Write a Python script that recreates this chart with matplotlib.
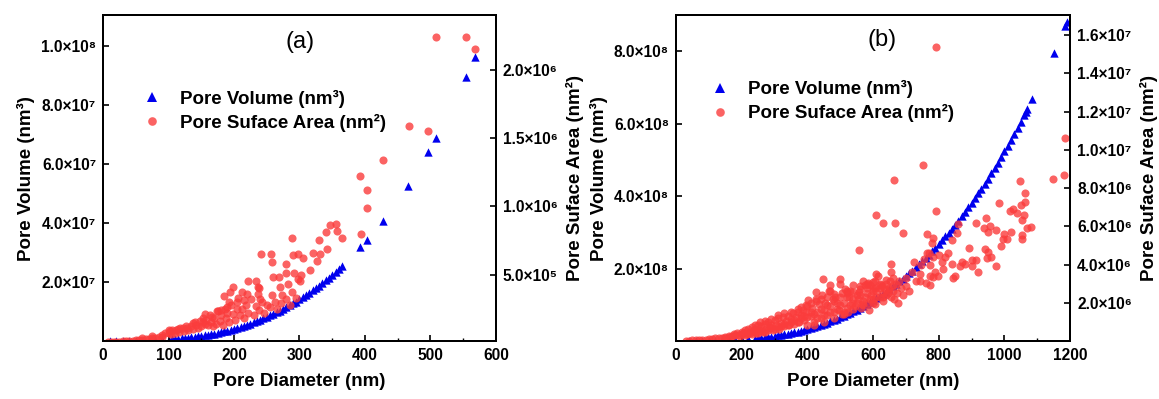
import numpy as np
import matplotlib
matplotlib.use('Agg')
import matplotlib.pyplot as plt
from matplotlib.ticker import MultipleLocator
from matplotlib.lines import Line2D

plt.rcParams['font.family'] = ['Liberation Sans', 'DejaVu Sans']
plt.rcParams['font.weight'] = 'bold'

# ---- panel (a) data ----
a_d_vol = [10, 20, 30, 40, 50, 60, 70, 80, 90, 100, 105, 110, 115, 120, 125, 130, 135, 140,
           145, 150, 155, 160, 165, 170, 175, 180, 185, 190, 195, 200, 205, 210, 215, 220,
           225, 230, 235, 240, 245, 250, 255, 260, 265, 270, 275, 280, 285, 290, 295, 300,
           305, 310, 315, 320, 325, 330, 335, 340, 345, 350, 355, 360, 365,
           393, 403, 427, 465, 496, 508, 555, 568]
a_vol = [5.2e2, 4.2e3, 1.41e4, 3.35e4, 6.54e4, 1.13e5, 1.80e5, 2.68e5, 3.82e5, 5.24e5, 6.06e5,
         6.97e5, 7.96e5, 9.05e5, 1.02e6, 1.15e6, 1.29e6, 1.44e6, 1.60e6, 1.77e6, 1.95e6,
         2.14e6, 2.35e6, 2.57e6, 2.81e6, 3.05e6, 3.32e6, 3.59e6, 3.88e6, 4.19e6, 4.51e6,
         4.85e6, 5.20e6, 5.58e6, 5.96e6, 6.37e6, 6.80e6, 7.24e6, 7.70e6, 8.18e6, 8.68e6,
         9.20e6, 9.74e6, 1.03e7, 1.09e7, 1.15e7, 1.21e7, 1.28e7, 1.34e7, 1.41e7, 1.49e7,
         1.56e7, 1.64e7, 1.72e7, 1.80e7, 1.88e7, 1.97e7, 2.06e7, 2.15e7, 2.24e7, 2.34e7,
         2.44e7, 2.55e7,
         3.18e7, 3.43e7, 4.08e7, 5.26e7, 6.39e7, 6.86e7, 8.95e7, 9.60e7]

# surface area, in units of 1e6 nm^2
a_d_area = [508, 555, 568, 467, 497, 428, 393, 403, 403, 394,
            347, 356, 340, 357, 365, 330, 342, 288,
            241, 257, 258, 279, 290, 297, 305, 320, 331, 326, 316,
            279, 292, 302, 260, 268, 298, 301, 282, 270,
            221, 234, 236, 238, 199, 212, 194, 185, 258, 274, 289, 240, 216, 190, 174, 204, 156,
            8, 12, 16, 20, 25, 30, 35, 40, 45, 50, 55, 60, 65, 70, 75, 80, 85, 90, 95, 100,
            100, 104, 106, 110, 112, 116, 118, 122, 124, 128, 130, 134, 137, 138, 142, 145,
            148, 150, 153, 155, 158, 160, 163, 165, 168, 170, 172, 176, 178, 180, 183, 186,
            188, 190, 193, 196, 199, 202, 205, 209, 212, 215, 218, 222, 226, 230, 233, 238,
            242, 246, 250, 255, 262, 266, 272, 280, 286, 294,
            60, 75, 90, 102, 114, 126, 140, 152, 166, 180, 192, 206, 220, 236]
a_area = [2.24, 2.24, 2.15, 1.59, 1.55, 1.34, 1.22, 1.12, 0.99, 0.80,
          0.86, 0.87, 0.81, 0.82, 0.77, 0.75, 0.69, 0.77,
          0.65, 0.65, 0.59, 0.58, 0.64, 0.65, 0.62, 0.66, 0.65, 0.60, 0.53,
          0.51, 0.51, 0.50, 0.48, 0.48, 0.47, 0.45, 0.43, 0.41,
          0.45, 0.45, 0.41, 0.40, 0.41, 0.37, 0.37, 0.34, 0.35, 0.35, 0.37, 0.32, 0.31, 0.26,
          0.23, 0.25, 0.21,
          0.005, 0.006, 0.007, 0.008, 0.009, 0.010, 0.012, 0.014, 0.016, 0.018, 0.021, 0.024,
          0.027, 0.030, 0.034, 0.038, 0.042, 0.046, 0.07, 0.09,
          0.075, 0.065, 0.09, 0.07, 0.095, 0.08, 0.105, 0.107, 0.085, 0.11, 0.09, 0.12, 0.145,
          0.10, 0.13, 0.11, 0.16, 0.12, 0.18, 0.14, 0.17, 0.13, 0.20, 0.15, 0.12, 0.18, 0.14,
          0.23, 0.16, 0.20, 0.13, 0.25, 0.18, 0.22, 0.15, 0.28, 0.21, 0.17, 0.30, 0.20, 0.25,
          0.18, 0.28, 0.22, 0.32, 0.20, 0.27, 0.24, 0.30, 0.22, 0.28, 0.26, 0.30, 0.25, 0.29,
          0.32, 0.28, 0.33,
          0.035, 0.05, 0.06, 0.085, 0.10, 0.125, 0.15, 0.15, 0.19, 0.24, 0.30, 0.33, 0.36, 0.36]

# ---- panel (b) data ----
b_d_vol = [40, 60, 80, 100, 120, 140, 160, 180, 200, 220, 240, 250, 260, 270, 280, 290, 300,
           310, 320, 330, 340, 350, 360, 370, 380, 390, 400, 410, 420, 430, 440, 450, 460,
           470, 480, 490, 500, 510, 520, 530, 540, 550, 560, 570, 580, 590, 600, 610, 620,
           630, 640, 650, 660, 670, 680, 690, 700, 710, 720, 730, 740, 750, 760, 770, 780,
           790, 800, 810, 820, 830, 840, 850, 860, 870, 880, 890, 900, 910, 920, 930, 940,
           950, 960, 970, 980, 990, 1000, 1010, 1020, 1030, 1040, 1050, 1060, 1065, 1070,
           1085, 1150, 1185, 1190]
b_vol = [3.35e4, 1.13e5, 2.68e5, 5.24e5, 9.05e5, 1.44e6, 2.14e6, 3.05e6, 4.19e6, 5.58e6,
         7.24e6, 8.18e6, 9.20e6, 1.03e7, 1.15e7, 1.28e7, 1.41e7, 1.56e7, 1.72e7, 1.88e7,
         2.06e7, 2.24e7, 2.44e7, 2.65e7, 2.87e7, 3.11e7, 3.35e7, 3.61e7, 3.88e7, 4.16e7,
         4.46e7, 4.77e7, 5.10e7, 5.44e7, 5.79e7, 6.16e7, 6.54e7, 6.95e7, 7.36e7, 7.80e7,
         8.24e7, 8.71e7, 9.20e7, 9.70e7, 1.02e8, 1.075e8, 1.13e8, 1.19e8, 1.25e8, 1.31e8,
         1.37e8, 1.44e8, 1.51e8, 1.575e8, 1.65e8, 1.72e8, 1.80e8, 1.87e8, 1.95e8, 2.04e8,
         2.12e8, 2.21e8, 2.30e8, 2.39e8, 2.48e8, 2.58e8, 2.68e8, 2.78e8, 2.89e8, 2.99e8,
         3.10e8, 3.22e8, 3.33e8, 3.45e8, 3.57e8, 3.69e8, 3.82e8, 3.95e8, 4.08e8, 4.21e8,
         4.35e8, 4.49e8, 4.63e8, 4.78e8, 4.93e8, 5.08e8, 5.24e8, 5.39e8, 5.56e8, 5.72e8,
         5.89e8, 6.06e8, 6.24e8, 6.32e8, 6.41e8,
         6.69e8, 7.96e8, 8.71e8, 8.82e8]

# surface area, in units of 1e6 nm^2
b_d_area = [793, 753, 664, 1183, 1149, 1181, 792, 609, 631, 667, 690, 558, 765, 784, 855, 840,
            829, 893, 860, 914, 943, 938, 956, 975, 951, 984, 1048, 1063, 1063, 1051, 1027,
            1017, 1038, 1053, 1081, 1055, 1055, 995, 1007, 990, 951, 946, 914, 901, 880, 865,
            840, 814, 799, 784, 774, 762, 743, 743, 843, 774, 784, 774, 764, 745, 654, 654,
            609, 606, 586, 606, 627, 652, 647, 677, 500, 498, 469, 448, 470, 426, 401, 426,
            477, 528, 557, 574, 599, 564, 589, 325, 356, 386,
            30, 40, 50, 60, 70, 80, 90, 100, 110, 120, 130, 140, 150, 160, 170, 180, 190, 200,
            150, 165, 175, 185, 195, 200,
            205, 210, 215, 220, 225, 230, 235, 240, 245, 250, 255, 260, 265, 270, 275, 280,
            285, 290, 295, 300,
            305, 310, 315, 320, 330, 335, 340, 345, 350, 360, 365, 370, 375, 380, 390, 395,
            400, 400,
            410, 415, 420, 430, 435, 440, 445, 450, 455, 460, 465, 470, 480, 485, 490, 495,
            505, 505,
            510, 515, 520, 522, 525, 530, 535, 540, 545, 550, 555, 560, 565, 570, 575, 580,
            585, 592, 595, 600, 605,
            610, 615, 620, 625, 630, 635, 640, 645, 655, 660, 665, 672, 680, 690, 700,
            720, 725, 730, 755, 770, 780, 790, 800, 810, 820, 850, 870, 900, 920, 940, 960,
            975, 1000, 1020, 1060, 1070,
            210, 220, 230, 240, 250, 260, 270, 280, 290, 300, 310, 320, 330, 340, 350, 360,
            370, 380, 390, 400, 410, 420, 430, 440, 450, 460, 470, 480, 490, 500, 510, 520,
            530, 540, 550, 560, 570, 580, 590, 600, 610, 620, 630, 640, 650, 660, 670, 685,
            700, 710,
            420, 450, 480, 510, 540, 570, 600, 630,
            240, 256, 270, 290, 310, 330, 350, 370, 380, 395, 410, 425, 440, 460, 480, 500,
            520, 540, 560, 580, 600, 620, 640, 660]
b_area = [15.4, 9.2, 8.45, 10.65, 8.5, 8.7, 6.8, 6.62, 6.2, 6.2, 5.66, 4.76, 5.63, 5.37, 5.66,
          5.28, 4.62, 4.85, 6.15, 6.19, 6.45, 5.92, 6.01, 5.8, 5.72, 7.23, 8.38, 7.75, 7.28,
          7.11, 6.89, 6.81, 6.68, 6.36, 5.95, 5.54, 5.32, 5.32, 5.33, 4.97, 4.67, 4.36, 4.27,
          3.92, 4.01, 3.92, 4.03, 3.75, 3.4, 3.36, 3.4, 3.02, 3.15, 3.5, 3.28, 2.93, 4.41, 3.97,
          4.6, 4.0, 4.03, 3.62, 3.5, 3.14, 3.02, 2.76, 2.89, 3.14, 2.67, 2.0, 3.25, 2.97, 2.96,
          3.23, 2.61, 2.58, 2.14, 2.23, 2.18, 2.32, 2.58, 2.93, 2.76, 1.71, 1.62, 1.27, 1.45,
          1.62,
          0.02, 0.03, 0.04, 0.05, 0.06, 0.07, 0.08, 0.10, 0.12, 0.14, 0.16, 0.19, 0.22, 0.25,
          0.28, 0.31, 0.34, 0.38,
          0.15, 0.20, 0.38, 0.45, 0.27, 0.50,
          0.42, 0.58, 0.35, 0.62, 0.45, 0.72, 0.52, 0.64, 0.42, 0.82, 0.60, 0.77, 0.50, 0.92,
          0.66, 1.02, 0.72, 0.87, 0.57, 1.12,
          0.82, 1.20, 0.66, 0.97, 0.77, 1.07, 1.32, 0.87, 1.17, 0.92, 1.27, 1.55, 1.02, 1.37,
          1.12, 1.52, 1.82, 0.87,
          1.32, 1.72, 1.02, 1.52, 1.92, 1.22, 2.42, 1.62, 2.02, 1.37, 2.62, 1.82, 1.52, 2.32,
          2.02, 1.62, 2.52, 1.42,
          2.02, 2.72, 1.72, 2.30, 1.52, 2.62, 2.02, 2.92, 1.82, 2.42, 2.22, 2.72, 1.92, 3.12,
          2.32, 2.52, 2.02, 2.92, 2.42, 2.22, 1.92,
          2.62, 3.42, 2.32, 2.92, 2.12, 2.72, 3.22, 2.52, 2.32, 2.92, 2.22, 2.52, 3.12, 2.42,
          3.32,
          3.62, 4.12, 3.12, 4.32, 4.62, 5.12, 3.62, 4.52, 4.12, 4.42, 3.42, 4.12, 4.22, 3.62,
          4.82, 4.42, 3.92, 5.62, 5.72, 6.62, 5.92,
          0.30, 0.40, 0.35, 0.50, 0.45, 0.55, 0.50, 0.60, 0.70, 0.65, 0.75, 0.80, 0.90, 0.85,
          1.00, 1.10, 1.00, 1.20, 1.30, 1.25, 1.50, 1.40, 1.20, 1.70, 1.35, 1.90, 1.50, 2.10,
          1.70, 1.90, 1.50, 2.50, 1.90, 2.20, 2.00, 2.40, 2.10, 2.80, 2.20, 2.60, 2.30, 2.80,
          2.50, 2.40, 2.80, 2.60, 3.00, 2.80, 2.90, 2.60,
          0.85, 1.00, 1.20, 1.40, 1.70, 1.90, 2.00, 2.30,
          0.85, 1.00, 1.05, 1.15, 1.35, 1.45, 1.55, 1.70, 1.80, 1.90, 2.00, 2.10, 2.20, 2.30,
          2.45, 2.30, 2.60, 2.55, 2.90, 3.00, 3.10, 3.00, 3.00, 3.30]

SUP = str.maketrans('0123456789', '⁰¹²³⁴⁵⁶⁷⁸⁹')


def sci(v):
    e = int(np.floor(np.log10(v)))
    return '%.1f×10%s' % (v / 10 ** e, str(e).translate(SUP))


BLUE = '#0000ee'
RED = '#fa3c3c'


def panel(rect, d_vol, vol, d_area, area, xmax, xmajor, ylim1, ylim2,
          yt1, yt2, letter, letter_xy, leg_anchor):
    ax = fig.add_axes(rect)
    ax.scatter(d_vol, vol, marker='^', s=36, color=BLUE, linewidths=0)
    ax2 = ax.twinx()
    ax2.scatter(d_area, np.array(area) * 1e6, marker='o', s=34, color=RED,
                alpha=0.8, linewidths=0)
    ax.set_xlim(0, xmax)
    ax.set_ylim(*ylim1)
    ax2.set_ylim(*ylim2)
    ax.xaxis.set_major_locator(MultipleLocator(xmajor))
    ax.xaxis.set_minor_locator(MultipleLocator(xmajor / 2))
    ax.set_yticks(yt1)
    ax.set_yticklabels([sci(v) for v in yt1])
    ax2.set_yticks(yt2)
    ax2.set_yticklabels([sci(v) for v in yt2])
    for a in (ax, ax2):
        a.tick_params(direction='in', labelsize=11.2, width=1.2, length=4, pad=5)
        a.tick_params(which='minor', direction='in', width=1.0, length=2.5)
        for sp in a.spines.values():
            sp.set_linewidth(1.4)
    ax.set_xlabel('Pore Diameter (nm)', fontsize=13.5, fontweight='bold', labelpad=7)
    ax.set_ylabel('Pore Volume (nm³)', fontsize=13.5, fontweight='bold', labelpad=4)
    ax2.set_ylabel('Pore Suface Area (nm²)', fontsize=13.5, fontweight='bold', labelpad=6)
    ax.text(letter_xy[0], letter_xy[1], letter, transform=ax.transAxes, fontsize=17,
            fontweight='normal', ha='center', va='center')
    handles = [Line2D([], [], ls='none', marker='^', ms=6.5, color=BLUE, mew=0),
               Line2D([], [], ls='none', marker='o', ms=6.2, color=RED, alpha=0.8, mew=0)]
    ax2.legend(handles, ['Pore Volume (nm³)', 'Pore Suface Area (nm²)'],
               loc='center left', bbox_to_anchor=leg_anchor, frameon=False,
               prop={'size': 13.5, 'weight': 'bold'}, handlelength=1.0,
               handletextpad=1.0, labelspacing=0.3, borderpad=0, borderaxespad=0)
    return ax


fig = plt.figure(figsize=(11.59, 3.99), dpi=100)

panel([0.0889, 0.145, 0.339, 0.817], a_d_vol, a_vol, a_d_area, a_area, 600, 100,
      (0, 1.103e8), (0.012e6, 2.4e6),
      [2e7, 4e7, 6e7, 8e7, 1e8], [5e5, 1e6, 1.5e6, 2e6],
      '(a)', (0.501, 0.917), (0.10, 0.707))

panel([0.5833, 0.145, 0.34, 0.817], b_d_vol, b_vol, b_d_area, b_area, 1200, 200,
      (0, 9.0e8), (0, 1.705e7),
      [2e8, 4e8, 6e8, 8e8], [2e6, 4e6, 6e6, 8e6, 1e7, 1.2e7, 1.4e7, 1.6e7],
      '(b)', (0.523, 0.923), (0.088, 0.736))

fig.savefig('out.png', dpi=100)
